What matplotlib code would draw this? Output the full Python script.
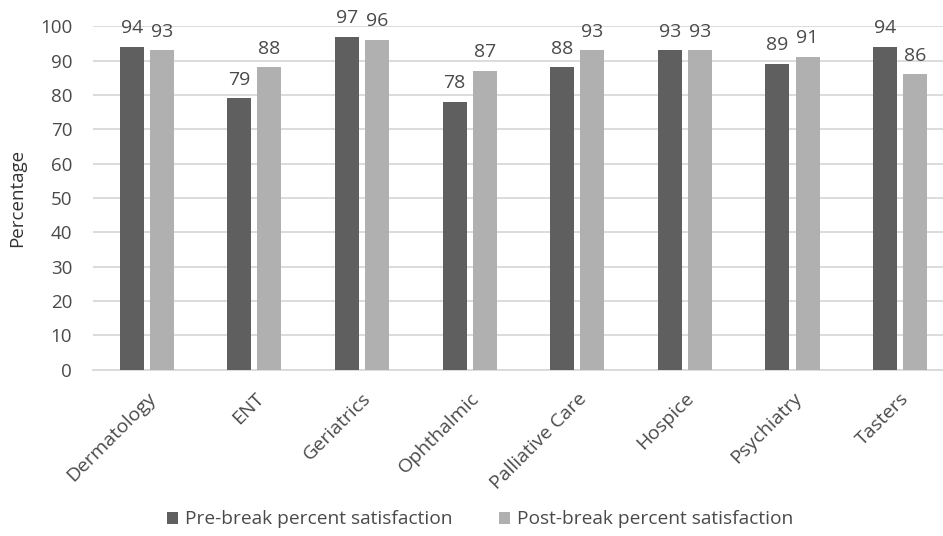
import matplotlib
matplotlib.use("Agg")
import matplotlib.pyplot as plt
import numpy as np

plt.rcParams["font.family"] = ["Open Sans", "DejaVu Sans"]

# ── Data ──────────────────────────────────────────────────────────────────────
categories = ["Dermatology", "ENT", "Geriatrics", "Ophthalmic",
              "Palliative Care", "Hospice", "Psychiatry", "Tasters"]
pre_break = [94, 79, 97, 78, 88, 93, 89, 94]
post_break = [93, 88, 96, 87, 93, 93, 91, 86]
series_labels = ["Pre-break percent satisfaction",
                 "Post-break percent satisfaction"]

TEXT = "#4a4a4a"
DARK = "#5f5f5f"
LIGHT = "#b0b0b0"
GRID = "#d9d9d9"

fig = plt.figure(figsize=(9.43, 5.36), dpi=100)
# plot area runs a little past the right edge, as in the exported chart
ax = fig.add_axes([0.0986, 0.31, 0.913, 0.641])

x = np.arange(len(categories))
w = 0.223
off = 0.14
b1 = ax.bar(x - off, pre_break, w, color=DARK, label=series_labels[0], zorder=3)
b2 = ax.bar(x + off, post_break, w, color=LIGHT, label=series_labels[1], zorder=3)

for bars, vals in ((b1, pre_break), (b2, post_break)):
    for rect, v in zip(bars, vals):
        ax.annotate(str(v), (rect.get_x() + rect.get_width() / 2, v),
                    xytext=(0, 7), textcoords="offset points",
                    ha="center", va="bottom", fontsize=14, color=TEXT)

ax.set_xlim(-0.5, len(categories) - 0.5)
ax.set_ylim(0, 100)
ax.set_yticks(range(0, 101, 10))
ax.yaxis.grid(True, color=GRID, linewidth=1.3, zorder=0)
ax.set_axisbelow(True)
for s in ("top", "right", "left"):
    ax.spines[s].set_visible(False)
ax.spines["bottom"].set_color(GRID)
ax.spines["bottom"].set_linewidth(1.3)
ax.tick_params(axis="both", length=0, colors=TEXT, labelsize=13.5)
ax.tick_params(axis="y", pad=15)
ax.tick_params(axis="x", pad=14)
ax.set_xticks(x)
ax.set_xticklabels(categories, rotation=45, ha="right", rotation_mode="anchor",
                   fontsize=14, color=TEXT)
ax.set_ylabel("Percentage", fontsize=13.5, color="#333333", labelpad=10)

fig.legend(handles=[b1, b2], loc="lower center", ncol=2, frameon=False,
           bbox_to_anchor=(0.509, -0.018), fontsize=13.8, labelcolor=TEXT,
           handlelength=0.6, handleheight=0.6, handletextpad=0.35,
           columnspacing=2.4)

fig.savefig("out.png", dpi=100)
